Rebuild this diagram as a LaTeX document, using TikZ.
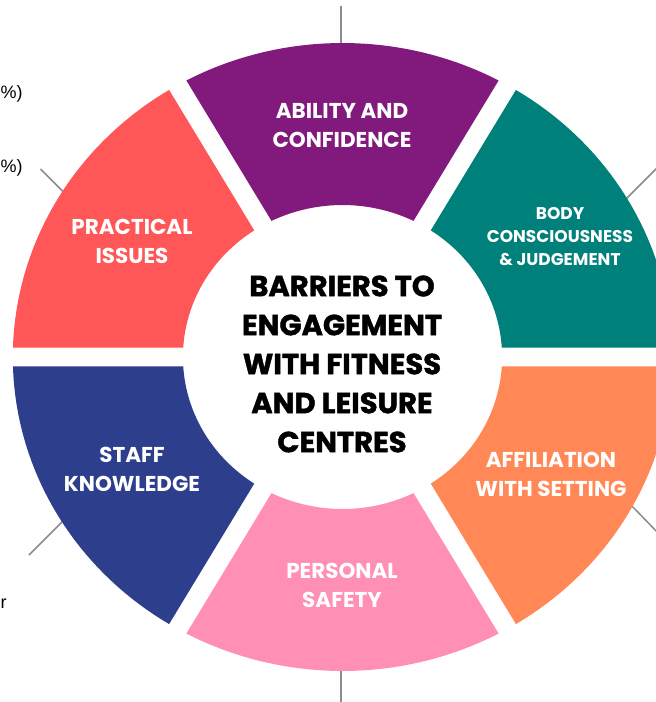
\documentclass[tikz,border=0pt]{standalone}
\usepackage{fontspec}
\setmainfont{Poppins}
\newfontfamily\plainfont{Liberation Sans}
\definecolor{segpurple}{HTML}{821A7E}
\definecolor{segred}{HTML}{FF5757}
\definecolor{segteal}{HTML}{00807B}
\definecolor{segnavy}{HTML}{2C3E8C}
\definecolor{segpink}{HTML}{FF8FB5}
\definecolor{segorange}{HTML}{FF8856}
\definecolor{leadergray}{HTML}{8C8C8C}
\begin{document}
\begin{tikzpicture}[x=1pt,y=1pt,
  seglabel/.style={text=white,font=\bfseries\fontsize{21.5}{29}\selectfont,align=center,inner sep=0pt},
  smalllabel/.style={text=white,font=\bfseries\fontsize{17}{23}\selectfont,align=center,inner sep=0pt},
  titlelabel/.style={text=black,font=\bfseries\fontsize{29}{39}\selectfont\addfontfeature{FakeBold=1.5},align=center,inner sep=0pt},
  frag/.style={text=black,font=\plainfont\fontsize{18}{22}\selectfont,inner sep=0pt},
  leader/.style={draw=leadergray,line width=1.5pt}]
\useasboundingbox (0,0) rectangle (656,-702);
\clip (0,0) rectangle (656,-702);
\fill[white] (0,0) rectangle (656,-702);
% leader lines (ends leave the picture)
\coordinate (lt1) at (341,-6);   \coordinate (lt2) at (341,-44);
\coordinate (lb1) at (341,-669); \coordinate (lb2) at (341,-702);
\coordinate (ll1) at (40.5,-169); \coordinate (ll2) at (63,-191.5);
\coordinate (lm1) at (29,-555);  \coordinate (lm2) at (63,-521);
\coordinate (lr1) at (626,-199); \coordinate (lr2) at (660,-165);
\coordinate (ls1) at (631,-505); \coordinate (ls2) at (660,-535);
\draw[leader] (lt1) -- (lt2);
\draw[leader] (lb1) -- (lb2);
\draw[leader] (ll1) -- (ll2);
\draw[leader] (lm1) -- (lm2);
\draw[leader] (lr1) -- (lr2);
\draw[leader] (ls1) -- (ls2);
% ring segments
\begin{scope}[shift={(342.5,-357)},xscale=1.05]
\foreach \a/\col in {60/segpurple,120/segred,180/segnavy,240/segpink,300/segorange,0/segteal}{
  \fill[\col] (\a+1.73:314) arc[start angle=\a+1.73, end angle=\a+58.27, radius=314]
     -- (\a+56.42:152) arc[start angle=\a+56.42, end angle=\a+3.58, radius=152] -- cycle;
}
\end{scope}
% labels
\node[seglabel] (ability) at (342,-125.5) {ABILITY AND\\CONFIDENCE};
\node[seglabel] (practical) at (132,-241) {PRACTICAL\\ISSUES};
\node[smalllabel] (body) at (560,-237) {BODY\\CONSCIOUSNESS\\\&~JUDGEMENT};
\node[seglabel] (staff) at (132,-469.5) {STAFF\\KNOWLEDGE};
\node[seglabel] (personal) at (342,-585) {PERSONAL\\SAFETY};
\node[seglabel] (affiliation) at (551,-474) {AFFILIATION\\WITH SETTING};
\node[titlelabel] (title) at (342,-364) {BARRIERS TO\\ENGAGEMENT\\WITH FITNESS\\AND LEISURE\\CENTRES};
% texts at the left edge
\node[frag,anchor=base west] (f1) at (0.5,-98) {\%)};
\node[frag,anchor=base west] (f2) at (0.5,-172) {\%)};
\node[frag,anchor=base west] (f3) at (0.5,-608) {r};
\end{tikzpicture}
\end{document}
